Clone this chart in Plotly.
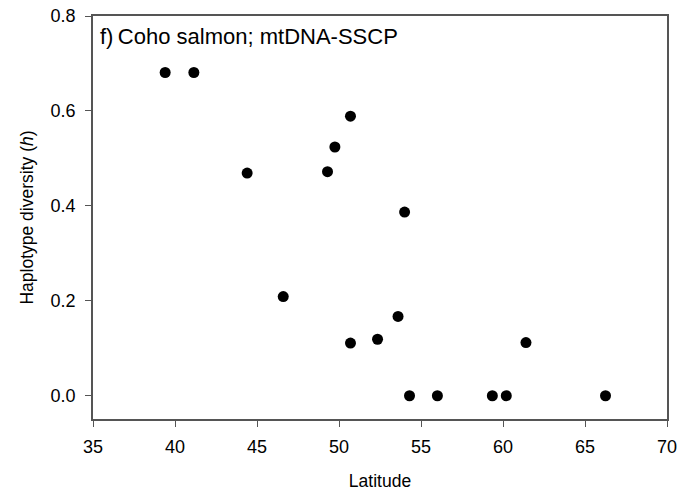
import plotly.graph_objects as go

latitude = [39.4, 41.15, 44.4, 49.3, 49.75, 50.7, 54.0, 46.6, 50.7, 52.35, 53.6, 61.4, 54.3, 56.0, 59.35, 60.2, 66.25]
diversity = [0.681, 0.681, 0.469, 0.472, 0.524, 0.589, 0.387, 0.209, 0.111, 0.119, 0.167, 0.112, 0.0, 0.0, 0.0, 0.0, 0.0]

x_ticks = [35, 40, 45, 50, 55, 60, 65, 70]
y_ticks = [0.0, 0.2, 0.4, 0.6, 0.8]

font_family = "Liberation Sans, Arial, sans-serif"
axis_color = "#555555"

fig = go.Figure()
fig.add_trace(go.Scatter(
    x=latitude, y=diversity, mode="markers",
    marker=dict(color="black", size=11, line=dict(width=0)),
    showlegend=False, hoverinfo="x+y",
))

fig.update_layout(
    width=681, height=498,
    margin=dict(l=93, r=14, t=16, b=79, autoexpand=False),
    paper_bgcolor="white", plot_bgcolor="white",
    font=dict(family=font_family, size=17.5, color="black"),
    xaxis=dict(
        range=[35, 70], tickvals=x_ticks, ticktext=[str(v) for v in x_ticks],
        showgrid=False, zeroline=False, showline=True, linecolor=axis_color, linewidth=1.5,
        mirror=True, ticks="outside", ticklen=6, tickcolor=axis_color, tickwidth=1.2,
        tickfont=dict(size=18), ticklabelstandoff=5, automargin=False,
        title=dict(text="Latitude", font=dict(size=17.5), standoff=18),
    ),
    yaxis=dict(
        range=[-0.049, 0.8], tickvals=y_ticks, ticktext=[f"{v:.1f}" for v in y_ticks],
        showgrid=False, zeroline=False, showline=True, linecolor=axis_color, linewidth=1.5,
        mirror=True, ticks="outside", ticklen=6, tickcolor=axis_color, tickwidth=1.2,
        tickfont=dict(size=18), ticklabelstandoff=6, automargin=False,
        title=dict(text="Haplotype diversity (<i>h</i>)", font=dict(size=17.5), standoff=12),
    ),
    annotations=[dict(
        x=0.009, y=0.949, xref="paper", yref="paper", xanchor="left", yanchor="middle",
        text="f)\u2009Coho salmon; mtDNA-SSCP", showarrow=False, font=dict(size=22, color="black"),
    )],
)

fig.write_html("out.html")
